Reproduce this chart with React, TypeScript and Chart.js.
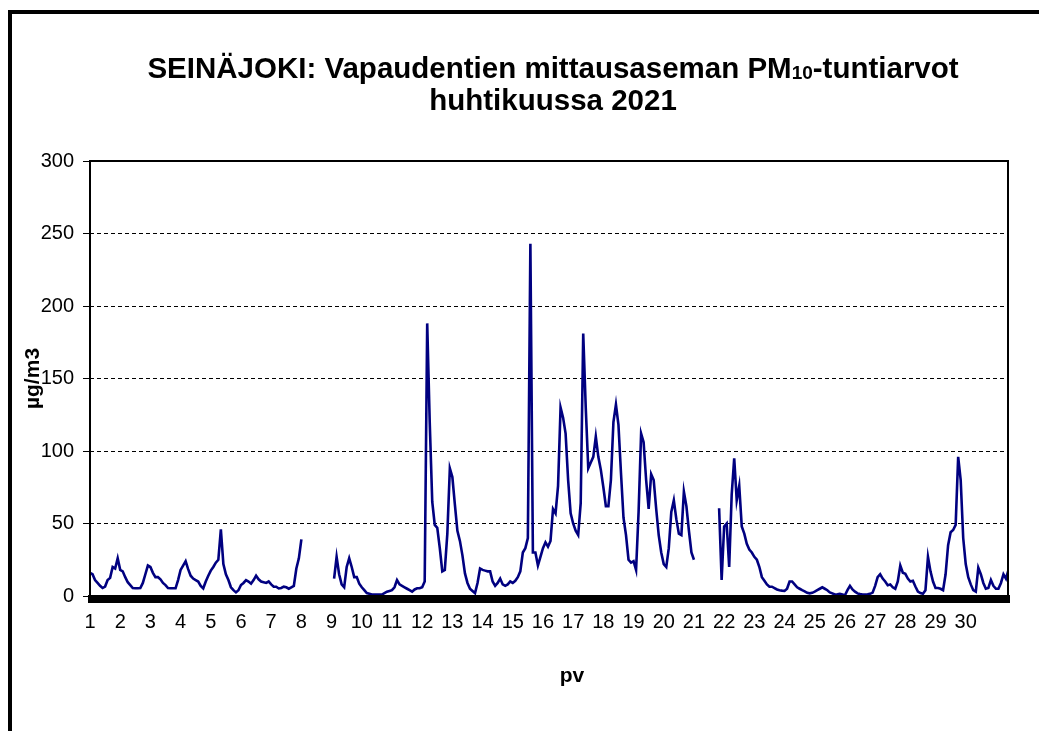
import React, { useEffect, useRef } from 'react';
import { Chart, registerables } from 'chart.js';

Chart.register(...registerables);

const TITLE_MAIN = 'SEINÄJOKI: Vapaudentien mittausaseman PM';
const TITLE_SUB = '10';
const TITLE_END = '-tuntiarvot';
const TITLE_LINE2 = 'huhtikuussa 2021';
const Y_TITLE = 'µg/m3';
const X_TITLE = 'pv';

const dayTicks = [1, 2, 3, 4, 5, 6, 7, 8, 9, 10, 11, 12, 13, 14, 15, 16, 17, 18, 19, 20, 21, 22, 23, 24, 25, 26, 27, 28, 29, 30];
const yTicks = [0, 50, 100, 150, 200, 250, 300];

// PM10 values every 2 hours (00, 02, ..., 22) for each day, µg/m3
const d01 = [16, 15, 11, 9, 7, 5.5, 6.5, 11, 12.5, 20, 19, 26];
const d02 = [18, 17, 13, 9.5, 7.5, 5.5, 5.3, 5.3, 5.5, 9, 15, 21];
const d03 = [20, 16, 13, 13, 11.5, 9, 7.5, 5.5, 5.3, 5.3, 5.3, 11];
const d04 = [18, 21, 24, 18.5, 14, 12, 11, 10, 7, 5.3, 10, 14];
const d05 = [17.5, 20, 23, 25, 46, 22, 15, 11, 6, 4, 2.5, 4];
const d06 = [7.6, 9, 11, 10, 8.5, 11, 14, 11.5, 10, 9.5, 9, 10];
const d07 = [8, 6.4, 6.4, 5.2, 5.5, 6.4, 6, 5, 6, 7, 19, 26];
const d08 = [39, null, null, null, null, null, null, null, null, null, null, null];
const d09 = [null, 12, 27, 15, 8, 6, 20, 26, 20, 13, 13, 8.5];
const d10 = [6, 4, 2, 1.5, 1, 1, 1, 1, 1, 2, 3, 3.5];
const d11 = [4, 6, 11, 8, 7, 6, 5, 4, 3, 4.5, 5.3, 5.3];
const d12 = [6, 10, 188, 120, 65, 49, 47, 33, 17, 18, 43, 88];
const d13 = [82, 63, 45, 38, 28, 15.6, 9, 5, 3.5, 2, 9, 19];
const d14 = [18, 17.5, 17, 17, 10, 7, 9, 12, 8, 7, 8, 10];
const d15 = [9, 10.5, 13, 17, 30, 33, 40, 243, 30, 30, 21, 27];
const d16 = [33, 37, 34, 38, 60, 57, 76, 130, 123, 112, 80, 57];
const d17 = [50, 45, 42, 64, 181, 130, 88, 92, 96, 110, 96, 87];
const d18 = [75, 62, 62, 80, 120, 132, 118, 85, 54, 42, 25, 23];
const d19 = [24, 18, 58, 112, 106, 80, 60, 84, 80, 60, 42, 30];
const d20 = [22, 20, 33, 58, 66, 53, 43, 42, 72, 62, 45, 30];
const d21 = [25, null, null, null, null, null, null, null, null, null, 60.5, 11];
const d22 = [48, 50, 20, 70, 95, 66, 76, 48, 43, 36, 32, 30];
const d23 = [27, 25, 20, 13, 10.5, 8, 6.4, 6.4, 5.5, 4.5, 4, 3.7];
const d24 = [3.5, 5, 10, 10, 8, 6, 5, 4, 3.2, 2.2, 1.8, 2.2];
const d25 = [3, 4, 5, 6, 5, 4, 2.5, 1.8, 1, 1.2, 1.5, 1];
const d26 = [0.5, 4, 7, 4.5, 3, 1.8, 1.3, 1, 1, 1.2, 1.5, 2.3];
const d27 = [7, 13, 15, 12, 10, 7.5, 8, 6, 5, 10, 21, 16];
const d28 = [15.3, 12, 10, 10.5, 6.5, 3, 2, 1.5, 4, 27, 17, 10];
const d29 = [5.5, 5.5, 5, 4, 15, 35, 44, 45.5, 49, 96, 80, 40];
const d30 = [22, 13, 8, 4, 3, 19.5, 15, 9, 5, 5.5, 11, 7];
const d31 = [5, 5, 9, 15, 12, 18];

const days = [d01, d02, d03, d04, d05, d06, d07, d08, d09, d10, d11, d12, d13, d14, d15,
  d16, d17, d18, d19, d20, d21, d22, d23, d24, d25, d26, d27, d28, d29, d30, d31];

const FONT = "'Liberation Sans', Arial, sans-serif";

export default function App() {
  const ref = useRef<HTMLCanvasElement | null>(null);

  useEffect(() => {
    const canvas = ref.current;
    if (!canvas) return;
    const points: { x: number; y: number | null }[] = [];
    days.forEach((arr, i) => {
      arr.forEach((v, k) => points.push({ x: i + 1 + (k * 2) / 24, y: v }));
    });

    const decor = {
      id: 'decor',
      beforeDraw(chart: any) {
        const c = chart.ctx;
        c.save();
        c.fillStyle = '#fff';
        c.fillRect(0, 0, chart.width, chart.height);
        c.restore();
      },
      afterDatasetsDraw(chart: any) {
        const c = chart.ctx;
        const a = chart.chartArea;
        c.save();
        c.strokeStyle = '#000';
        c.lineWidth = 2;
        c.strokeRect(a.left, a.top, a.right - a.left, a.bottom - a.top);
        c.fillStyle = '#000';
        c.fillRect(a.left - 2, a.bottom - 1, a.right - a.left + 4, 8);
        c.restore();
      },
      afterDraw(chart: any) {
        const c = chart.ctx;
        const a = chart.chartArea;
        c.save();
        // outer frame (left and top)
        c.fillStyle = '#000';
        c.fillRect(8, 10, 4, chart.height - 10);
        c.fillRect(8, 10, chart.width - 8, 4);
        // title
        const big = `bold 29.5px ${FONT}`;
        const small = `bold 19px ${FONT}`;
        c.fillStyle = '#000';
        c.textBaseline = 'alphabetic';
        c.textAlign = 'left';
        c.font = big;
        const w1 = c.measureText(TITLE_MAIN).width;
        const w3 = c.measureText(TITLE_END).width;
        c.font = small;
        const w2 = c.measureText(TITLE_SUB).width;
        const cx = 553;
        let x = cx - (w1 + w2 + w3) / 2;
        c.font = big;
        c.fillText(TITLE_MAIN, x, 78);
        x += w1;
        c.font = small;
        c.fillText(TITLE_SUB, x, 79);
        x += w2;
        c.font = big;
        c.fillText(TITLE_END, x, 78);
        c.textAlign = 'center';
        c.fillText(TITLE_LINE2, cx, 110);
        // axis titles
        c.font = `bold 21px ${FONT}`;
        c.textBaseline = 'middle';
        c.fillText(X_TITLE, 572, 676);
        c.translate(33, (a.top + a.bottom) / 2);
        c.rotate(-Math.PI / 2);
        c.fillText(Y_TITLE, 0, 0);
        c.restore();
      },
    };

    const chart = new Chart(canvas, {
      type: 'line',
      data: {
        datasets: [
          {
            data: points as any,
            borderColor: '#000080',
            borderWidth: 2.6,
            pointRadius: 0,
            tension: 0,
            spanGaps: false,
          },
        ],
      },
      options: {
        responsive: false,
        animation: false,
        layout: { padding: { left: 0, top: 161, right: 31, bottom: 0 } },
        plugins: {
          legend: { display: false },
          title: { display: false },
          tooltip: { enabled: false },
        },
        scales: {
          x: {
            type: 'linear',
            min: 1,
            max: 31.4,
            afterBuildTicks: (s: any) => {
              s.ticks = dayTicks.map((v) => ({ value: v }));
            },
            afterFit: (s: any) => {
              s.height = 135;
            },
            ticks: {
              autoSkip: false,
              maxRotation: 0,
              minRotation: 0,
              padding: 14,
              color: '#000',
              font: { family: FONT, size: 20 },
              callback: (v: any) => String(v),
            },
            grid: { display: false, drawTicks: false },
            border: { display: false },
          },
          y: {
            min: 0,
            max: 300,
            afterBuildTicks: (s: any) => {
              s.ticks = yTicks.map((v) => ({ value: v }));
            },
            afterFit: (s: any) => {
              s.width = 90;
            },
            ticks: {
              padding: 9,
              color: '#000',
              font: { family: FONT, size: 20 },
              callback: (v: any) => String(v),
            },
            grid: {
              color: (ctx: any) =>
                ctx.tick && (ctx.tick.value === 0 || ctx.tick.value === 300) ? 'rgba(0,0,0,0)' : '#000',
              lineWidth: 1,
              tickColor: '#000',
              tickLength: 7,
              tickWidth: 1,
              tickBorderDash: [],
            },
            border: { display: false, dash: [4, 3] },
          },
        },
      },
      plugins: [decor],
    });
    return () => chart.destroy();
  }, []);

  return (
    <div style={{ position: 'absolute', left: 0, top: 0, width: 1039, height: 731 }}>
      <canvas ref={ref} width={1039} height={731} style={{ display: 'block' }} />
    </div>
  );
}
